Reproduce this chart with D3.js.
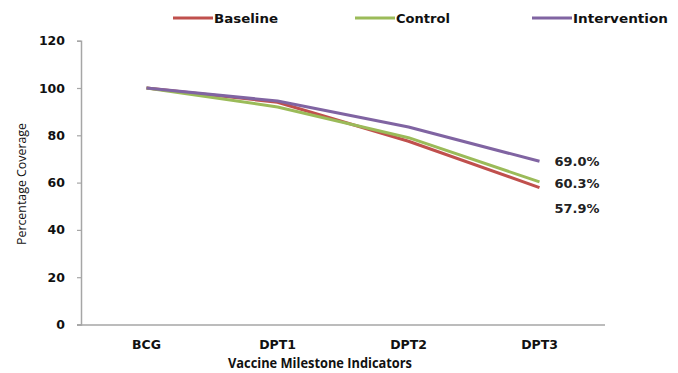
<!DOCTYPE html>
<html><head><meta charset="utf-8">
<script src="https://cdn.jsdelivr.net/npm/d3@7"></script>
<style>body{margin:0;background:#fff}svg{display:block}</style>
</head><body>
<script>
const categories = ["BCG", "DPT1", "DPT2", "DPT3"];
const seriesNames = ["Baseline", "Control", "Intervention"];
const baseline = [100, 94, 77.5, 57.9];
const control = [100, 92, 79, 60.3];
const intervention = [100, 94.5, 83.5, 69.0];
const yTicks = [0, 20, 40, 60, 80, 100, 120];
const endLabels = ["69.0%", "60.3%", "57.9%"];
const colors = ["#c0504d", "#9bbb59", "#8064a2"];

const W = 678, H = 373;
const svg = d3.select("body").append("svg").attr("width", W).attr("height", H);
const x = d3.scaleBand().domain(categories).range([81, 605]);
const y = d3.scaleLinear().domain([0, 120]).range([324.5, 40.7]);
const font = "'DejaVu Sans', Verdana, sans-serif";
const font2 = "'Open Sans', 'DejaVu Sans', sans-serif";

// y axis
const ya = svg.append("g").attr("transform", "translate(81,0)")
  .call(d3.axisLeft(y).tickValues(yTicks).tickSize(4).tickPadding(12));
ya.select(".domain").attr("stroke", "#a6a6a6").attr("stroke-width", 1.5);
ya.selectAll(".tick line").attr("stroke", "#a6a6a6").attr("stroke-width", 1.2);
ya.selectAll(".tick text").attr("font-family", font).attr("font-weight", "bold")
  .attr("font-size", 12.5).attr("fill", "#111");

// x axis
const xa = svg.append("g").attr("transform", "translate(0,325)")
  .call(d3.axisBottom(x).tickSize(0).tickPadding(15));
xa.select(".domain").attr("stroke", "#a6a6a6").attr("stroke-width", 1.5)
  .attr("d", "M77,0H605");
xa.selectAll(".tick text").attr("font-family", font).attr("font-weight", "bold")
  .attr("font-size", 12.5).attr("fill", "#111");

// axis titles
svg.append("text").attr("x", 320).attr("y", 368).attr("text-anchor", "middle")
  .attr("font-family", font2).attr("font-weight", "bold").attr("font-size", 13.5)
  .attr("fill", "#111").attr("textLength", 184).attr("lengthAdjust", "spacingAndGlyphs")
  .text("Vaccine Milestone Indicators");
svg.append("text").attr("transform", "translate(26,184) rotate(-90)").attr("text-anchor", "middle")
  .attr("font-family", font2).attr("font-size", 13).attr("fill", "#111")
  .attr("textLength", 122).attr("lengthAdjust", "spacingAndGlyphs")
  .text("Percentage Coverage");

// lines
const data = [baseline, control, intervention];
const line = d3.line().x((d, i) => x(categories[i]) + x.bandwidth() / 2).y(d => y(d));
data.forEach((s, k) => {
  svg.append("path").datum(s).attr("d", line).attr("fill", "none")
    .attr("stroke", colors[k]).attr("stroke-width", 3).attr("stroke-linejoin", "round");
});

// end labels
const lastX = x("DPT3") + x.bandwidth() / 2;
[intervention, control, baseline].forEach((s, k) => {
  svg.append("text").attr("x", lastX + 15)
    .attr("y", [166, 188, 213][k])
    .attr("font-family", font).attr("font-weight", "bold").attr("font-size", 12.5)
    .attr("fill", "#222").attr("textLength", 45).attr("lengthAdjust", "spacingAndGlyphs")
    .text(endLabels[k]);
});

// legend
const legX = [173, 355, 532];
const legW = [64, 54, 95];
seriesNames.forEach((n, k) => {
  const g = svg.append("g").attr("transform", `translate(${legX[k]},18)`);
  g.append("line").attr("x1", 0).attr("x2", 40).attr("stroke", colors[k]).attr("stroke-width", 3);
  g.append("text").attr("x", 41).attr("y", 4.5).attr("font-family", font).attr("font-weight", "bold")
    .attr("font-size", 12.5).attr("fill", "#111")
    .attr("textLength", legW[k]).attr("lengthAdjust", "spacingAndGlyphs").text(n);
});
</script>
</body></html>
